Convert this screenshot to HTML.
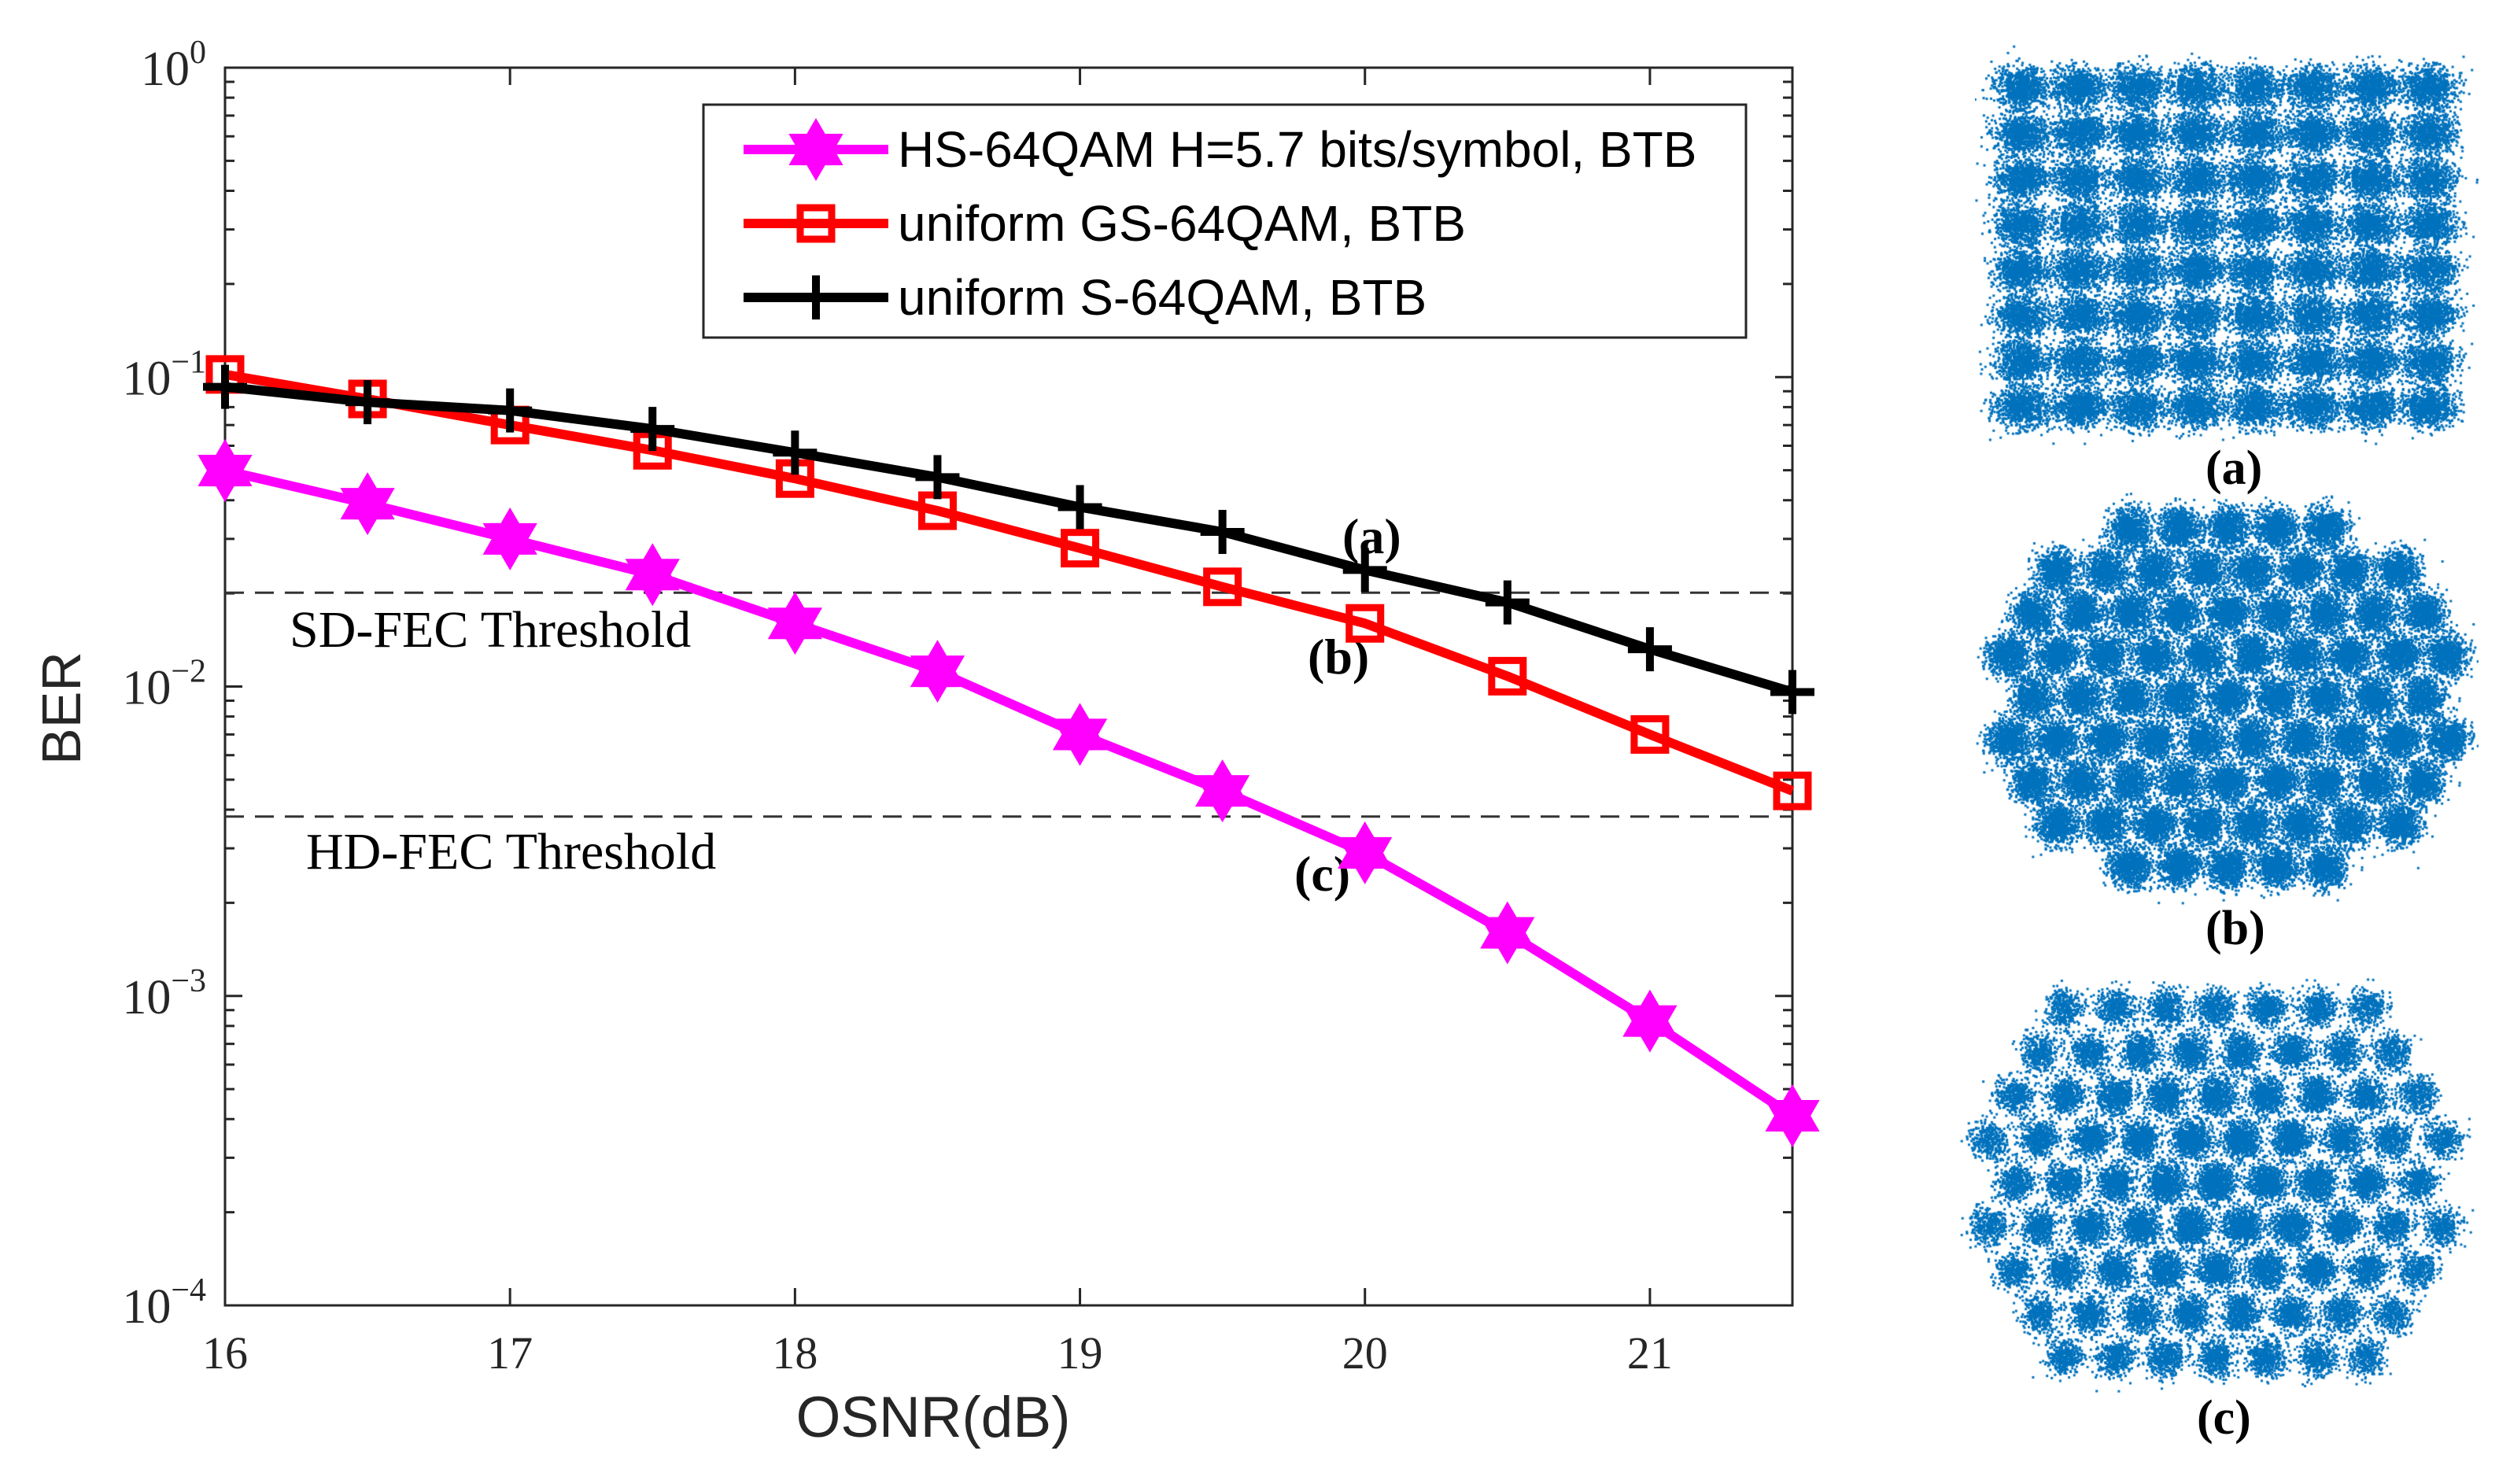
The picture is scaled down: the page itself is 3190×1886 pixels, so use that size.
<!DOCTYPE html>
<html><head><meta charset="utf-8"><style>
html,body{margin:0;padding:0;background:#fff;}
#wrap{position:relative;width:3190px;height:1886px;overflow:hidden;background:#fff;}
svg{position:absolute;left:0;top:0;}
canvas{position:absolute;}
.lab{position:absolute;font-family:"Liberation Serif",serif;font-weight:bold;font-size:62px;color:#000;}
</style></head><body>
<div id="wrap">
<svg id="chart" width="3190" height="1886"></svg>
<canvas id="ca" width="640" height="520" style="left:2510px;top:50px"></canvas>
<canvas id="cb" width="640" height="540" style="left:2510px;top:620px"></canvas>
<canvas id="cc" width="680" height="560" style="left:2475px;top:1230px"></canvas>
<div class="lab" style="left:2803px;top:560px">(a)</div>
<div class="lab" style="left:2803px;top:1145px">(b)</div>
<div class="lab" style="left:2792px;top:1767px">(c)</div>
</div>
<script>
const osnr = [16,16.5,17,17.5,18,18.5,19,19.5,20,20.5,21,21.5];
const hsBer = [0.0499,0.039,0.030,0.023,0.016,0.0112,0.0070,0.0046,0.0029,0.0016,0.00083,0.00041];
const gsBer = [0.102,0.085,0.070,0.058,0.047,0.037,0.028,0.021,0.016,0.0108,0.0070,0.0046];
const sBer = [0.093,0.083,0.078,0.068,0.057,0.0475,0.038,0.0316,0.0238,0.0187,0.0132,0.0096];
const xTicks = [16,17,18,19,20,21];
const yExps = [0,-1,-2,-3,-4];
const sdThreshold = 0.0201;
const hdThreshold = 0.0038;

const L=286,R=2278,T=86,B=1659;
const X=v=>L+(v-16)/(21.5-16)*(R-L);
const Y=v=>T+(-Math.log10(v))/4*(B-T);
const NS='http://www.w3.org/2000/svg';
const svg=document.getElementById('chart');
function mk(tag,attrs,parent){const e=document.createElementNS(NS,tag);for(const k in attrs)e.setAttribute(k,attrs[k]);(parent||svg).appendChild(e);return e;}

const box=mk('rect',{x:L,y:T,width:R-L,height:B-T,fill:'none',stroke:'#262626','stroke-width':3});


xTicks.forEach(t=>{
  mk('line',{x1:X(t),x2:X(t),y1:B,y2:B-22,stroke:'#262626','stroke-width':3});
  mk('line',{x1:X(t),x2:X(t),y1:T,y2:T+22,stroke:'#262626','stroke-width':3});
  const tx=mk('text',{x:X(t),y:B+80,'text-anchor':'middle','font-family':'Liberation Serif, serif','font-size':58,fill:'#262626'});
  tx.textContent=t;
  
  
});
yExps.forEach(e=>{
  const y=Y(Math.pow(10,e));
  mk('line',{x1:L,x2:L+22,y1:y,y2:y,stroke:'#262626','stroke-width':3});
  mk('line',{x1:R,x2:R-22,y1:y,y2:y,stroke:'#262626','stroke-width':3});
  if(e>-4){for(let m=2;m<=9;m++){const yy=Y(m*Math.pow(10,e-1));
    mk('line',{x1:L,x2:L+12,y1:yy,y2:yy,stroke:'#262626','stroke-width':3});
    mk('line',{x1:R,x2:R-12,y1:yy,y2:yy,stroke:'#262626','stroke-width':3});}}
  const tx=mk('text',{x:L-24,y:y+22,'text-anchor':'end','font-family':'Liberation Serif, serif','font-size':62,fill:'#262626'});
  
  
  tx.appendChild(document.createTextNode('10'));
  const ts=mk('tspan',{dy:-28,'font-size':42},tx);ts.textContent=(e===0?'0':'\u2212'+(-e));
});
const xt=mk('text',{x:1186,y:1826,'text-anchor':'middle','font-family':'Liberation Sans, sans-serif','font-size':73,fill:'#262626'});
xt.textContent='OSNR(dB)';


const yt=mk('text',{x:0,y:0,'text-anchor':'middle','font-family':'Liberation Sans, sans-serif','font-size':70,fill:'#262626',transform:'translate(102,900) rotate(-90)'});
yt.textContent='BER';


[[sdThreshold,'sd-fec-threshold-line'],[hdThreshold,'hd-fec-threshold-line']].forEach(([v,n])=>{
  const l=mk('line',{x1:L,x2:R,y1:Y(v),y2:Y(v),stroke:'#333','stroke-width':3,'stroke-dasharray':'24,14'});
  
  
});
function txt(s,x,y,size,bold,name){const t=mk('text',{x:x,y:y,'font-family':'Liberation Serif, serif','font-size':size,'font-weight':bold?'bold':'normal',fill:'#000'});t.textContent=s;
  
  return t;}
txt('SD-FEC Threshold',368,822,66,false,'sd-fec-label');
txt('HD-FEC Threshold',389,1104,66,false,'hd-fec-label');
txt('(a)',1706,703,64,true,'annotation-a');
txt('(b)',1662,856,64,true,'annotation-b');
txt('(c)',1645,1132,64,true,'annotation-c');

function star(g,x,y,r,c){const p=[];for(let k=0;k<12;k++){const a=-Math.PI/2+k*Math.PI/6;const rr=k%2?r*0.58:r;p.push((x+rr*Math.cos(a)).toFixed(1)+','+(y+rr*Math.sin(a)).toFixed(1));}
  mk('polygon',{points:p.join(' '),fill:c,stroke:c,'stroke-width':2},g);}
function square(g,x,y,r,c){mk('rect',{x:x-r,y:y-r,width:2*r,height:2*r,fill:'none',stroke:c,'stroke-width':9},g);}
function plus(g,x,y,r,c){mk('line',{x1:x-r,x2:x+r,y1:y,y2:y,stroke:c,'stroke-width':10},g);mk('line',{x1:x,x2:x,y1:y-r,y2:y+r,stroke:c,'stroke-width':10},g);}
function series(vals,color,mfn,mr,name){
  const g=mk('g',{});
  
  
  mk('polyline',{points:osnr.map((x,i)=>X(x)+','+Y(vals[i])).join(' '),fill:'none',stroke:color,'stroke-width':12,'stroke-linejoin':'round'},g);
  osnr.forEach((x,i)=>mfn(g,X(x),Y(vals[i]),mr,color));
}
series(hsBer,'#ff00ff',star,38,'series-hs-64qam');
series(gsBer,'#ff0000',square,20,'series-gs-64qam');
series(sBer,'#000000',plus,28,'series-s-64qam');

const lg=mk('g',{});


mk('rect',{x:894,y:133,width:1325,height:296,fill:'#fff',stroke:'#262626','stroke-width':3},lg);
const le=[['HS-64QAM H=5.7 bits/symbol, BTB','#ff00ff',star,38],['uniform GS-64QAM, BTB','#ff0000',square,20],['uniform S-64QAM, BTB','#000000',plus,28]];
le.forEach((e,i)=>{const y=190+i*94;
  const g=mk('g',{},lg);
  
  
  mk('line',{x1:945,x2:1129,y1:y,y2:y,stroke:e[1],'stroke-width':12},g);
  e[2](g,1037,y,e[3],e[1]);
  const t=mk('text',{x:1141,y:y+22,'font-family':'Liberation Sans, sans-serif','font-size':64,fill:'#000'},g);t.textContent=e[0];
});

let seed=12345;function rnd(){seed=(seed*1103515245+12345)&0x7fffffff;return seed/0x7fffffff;}
function gauss(){let u=rnd()||1e-9,v=rnd();return Math.sqrt(-2*Math.log(u))*Math.cos(2*Math.PI*v);}
function draw(id,centers,sx,sy,n){const c=document.getElementById(id).getContext('2d');c.fillStyle='#0072BD';
  centers.forEach(([cx,cy,w])=>{const m=Math.round(n*(w||1));for(let i=0;i<m;i++){c.fillRect(cx+gauss()*sx,cy+gauss()*sy,3,3);}});}
const ca=[];for(let i=0;i<8;i++)for(let j=0;j<8;j++)ca.push([58+i*74,60+j*58,1]);
draw('ca',ca,17,13,800);
function hexC(cx,cy,d,R,wf){const out=[];for(let r=-4;r<=4;r++)for(let q=-8;q<=8;q++){const x=cx+(q+r/2)*d, y=cy+r*d*0.866;const dist=Math.hypot(x-cx,(y-cy)*1.05);if(dist<=R)out.push([x,y,wf?wf(dist/R):1]);}return out;}
draw('cb',hexC(320,265,62,290,null),13,13,800);
draw('cc',hexC(340,272,64,305,t=>1.3-0.8*t),12,12,700);
</script>
</body></html>
